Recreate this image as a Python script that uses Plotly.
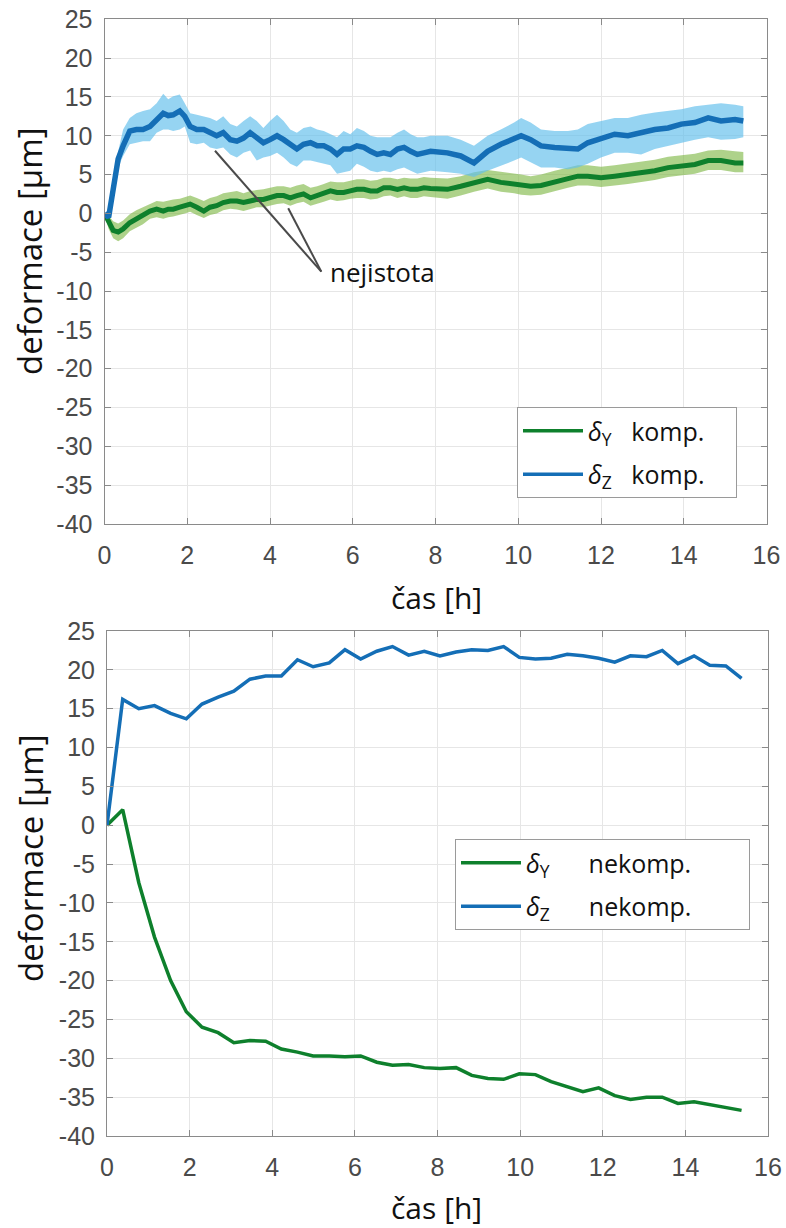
import plotly.graph_objects as go

# ---------------- data: top chart (compensated, with uncertainty band) ----------------
t_top = [0.00, 0.10, 0.21, 0.33, 0.45, 0.61, 0.77, 0.93, 1.10, 1.26, 1.42, 1.54, 1.66, 1.82, 1.94,
         2.07, 2.23, 2.40, 2.55, 2.71, 2.87, 3.04, 3.20, 3.36, 3.52, 3.68, 3.84, 4.00, 4.17, 4.33,
         4.49, 4.65, 4.81, 4.98, 5.14, 5.30, 5.46, 5.62, 5.78, 5.94, 6.10, 6.27, 6.43, 6.59, 6.75,
         6.91, 7.08, 7.24, 7.40, 7.56, 7.72, 7.88, 8.29, 8.61, 8.93, 9.26, 9.58, 9.90, 10.07, 10.30,
         10.55, 10.88, 11.20, 11.44, 11.68, 12.00, 12.33, 12.65, 12.97, 13.30, 13.62, 13.94, 14.27,
         14.59, 14.90, 15.24, 15.44]

dz_komp = [0.0, -0.5, 3.1, 7.0, 8.7, 10.6, 10.8, 10.8, 11.2, 12.1, 12.9, 12.6, 12.7, 13.2, 12.5,
           11.2, 10.8, 10.8, 10.4, 10.0, 10.4, 9.5, 9.3, 9.7, 10.4, 9.7, 9.1, 9.5, 10.0, 9.5,
           8.9, 8.3, 8.9, 9.1, 8.7, 8.7, 8.3, 7.6, 8.3, 8.3, 8.7, 8.5, 8.0, 7.6, 7.8,
           7.6, 8.3, 8.5, 8.0, 7.6, 7.8, 8.0, 7.8, 7.4, 6.5, 8.0, 8.9, 9.7, 10.0, 9.5,
           8.7, 8.5, 8.3, 8.3, 9.1, 9.7, 10.2, 10.0, 10.4, 10.8, 11.0, 11.5, 11.7,
           12.3, 11.9, 12.1, 11.9]
dz_upper = [0.0, 0.2, 4.2, 8.0, 10.8, 12.3, 12.9, 13.2, 13.4, 14.2, 15.4, 14.7, 15.1, 15.3, 14.2,
            12.9, 12.7, 12.5, 12.3, 11.9, 12.5, 11.5, 11.2, 11.9, 12.5, 11.9, 11.0, 11.9, 12.7, 11.9,
            10.8, 10.4, 11.0, 11.2, 10.8, 10.6, 10.2, 9.8, 10.6, 10.2, 11.0, 10.6, 10.0, 9.8, 9.8,
            9.8, 10.4, 10.8, 10.2, 9.8, 9.8, 10.0, 10.0, 9.5, 8.7, 10.0, 10.8, 11.7, 12.3, 11.7,
            10.8, 10.6, 10.6, 10.8, 11.5, 11.9, 12.3, 12.3, 12.7, 13.0, 13.2, 13.4, 13.8,
            14.0, 14.2, 14.0, 13.8]
dz_lower = [0.0, -1.0, 2.0, 5.9, 7.4, 8.9, 9.1, 9.3, 9.3, 10.4, 10.8, 10.8, 10.6, 10.8, 11.2,
            9.1, 8.9, 9.1, 8.5, 8.3, 8.5, 7.6, 7.2, 7.8, 8.1, 6.8, 7.2, 7.4, 7.8, 7.2,
            6.4, 6.0, 6.8, 6.8, 6.6, 6.4, 6.2, 5.1, 5.3, 5.5, 6.4, 6.0, 5.5, 5.3, 5.5,
            5.3, 5.7, 5.9, 5.5, 5.1, 5.3, 5.5, 5.3, 5.1, 4.7, 5.5, 6.2, 6.8, 7.2, 6.6,
            5.9, 5.9, 5.7, 5.9, 6.4, 7.2, 7.8, 7.8, 7.6, 8.3, 8.7, 9.1, 9.5,
            9.8, 9.5, 9.6, 9.8]

dy_komp = [0.0, -1.2, -2.2, -2.4, -2.0, -1.2, -0.7, -0.3, 0.3, 0.55, 0.3, 0.55, 0.55, 0.8, 1.0,
           1.2, 0.8, 0.3, 0.8, 1.0, 1.4, 1.6, 1.6, 1.4, 1.6, 1.8, 1.8, 2.0, 2.3, 2.3,
           2.0, 2.3, 2.5, 2.0, 2.3, 2.5, 2.9, 2.7, 2.7, 2.9, 3.1, 3.1, 2.9, 2.9, 3.3,
           3.3, 3.1, 3.3, 3.1, 3.1, 3.3, 3.2, 3.1, 3.5, 4.0, 4.4, 4.0, 3.8, 3.6, 3.5,
           3.6, 4.1, 4.5, 4.8, 4.8, 4.6, 4.8, 5.0, 5.2, 5.5, 5.9, 6.1, 6.3,
           6.8, 6.8, 6.5, 6.5]
dy_upper = [0.0, -0.3, -1.0, -1.3, -0.9, -0.1, 0.4, 0.8, 1.3, 1.6, 1.5, 1.7, 1.8, 1.9, 2.1,
            2.3, 2.0, 1.6, 2.0, 2.2, 2.6, 2.8, 2.9, 2.6, 2.9, 3.0, 3.1, 3.3, 3.5, 3.5,
            3.3, 3.6, 3.8, 3.3, 3.5, 3.8, 4.1, 4.0, 4.0, 4.2, 4.4, 4.4, 4.2, 4.3, 4.6,
            4.6, 4.4, 4.6, 4.5, 4.5, 4.7, 4.6, 4.5, 4.8, 5.3, 5.6, 5.4, 5.2, 5.0, 4.8,
            5.0, 5.5, 5.9, 6.2, 6.2, 6.0, 6.2, 6.4, 6.6, 6.9, 7.3, 7.5, 7.7,
            8.1, 8.2, 8.0, 7.9]
dy_lower = [0.0, -2.0, -3.2, -3.6, -3.2, -2.3, -1.8, -1.4, -0.7, -0.5, -0.7, -0.5, -0.4, -0.2, 0.0,
            0.2, -0.2, -0.6, -0.2, 0.0, 0.4, 0.6, 0.5, 0.3, 0.6, 0.8, 0.8, 1.0, 1.2, 1.3,
            1.0, 1.3, 1.5, 1.0, 1.2, 1.5, 1.8, 1.6, 1.7, 1.9, 2.0, 2.0, 1.8, 1.9, 2.2,
            2.3, 2.0, 2.2, 2.0, 2.0, 2.2, 2.1, 1.9, 2.3, 2.8, 3.2, 2.8, 2.6, 2.4, 2.3,
            2.4, 2.9, 3.3, 3.6, 3.6, 3.4, 3.6, 3.8, 4.0, 4.3, 4.7, 4.9, 5.1,
            5.6, 5.6, 5.3, 5.3]

# ---------------- data: bottom chart (uncompensated) ----------------
t_bot = [0.00, 0.38, 0.77, 1.15, 1.54, 1.92, 2.30, 2.69, 3.07, 3.46, 3.84, 4.22, 4.61, 4.99,
         5.38, 5.76, 6.14, 6.53, 6.91, 7.30, 7.68, 8.06, 8.45, 8.83, 9.22, 9.60, 9.98, 10.37,
         10.75, 11.14, 11.52, 11.90, 12.29, 12.67, 13.06, 13.44, 13.82, 14.21, 14.59, 14.98, 15.36]
dy_nekomp = [0.0, 2.0, -7.4, -14.4, -20.0, -24.0, -26.0, -26.7, -28.0, -27.7, -27.8, -28.8, -29.2,
             -29.7, -29.7, -29.8, -29.7, -30.5, -30.9, -30.8, -31.2, -31.3, -31.2, -32.2, -32.6,
             -32.7, -32.0, -32.1, -33.0, -33.6, -34.3, -33.8, -34.8, -35.3, -35.0, -35.0, -35.8,
             -35.6, -36.0, -36.3, -36.7]
dz_nekomp = [0.0, 16.2, 15.0, 15.4, 14.4, 13.7, 15.6, 16.5, 17.25, 18.8, 19.2, 19.2, 21.3, 20.4,
             20.9, 22.6, 21.4, 22.4, 23.0, 21.9, 22.4, 21.8, 22.3, 22.6, 22.5, 23.0, 21.6, 21.4,
             21.5, 22.0, 21.8, 21.5, 21.0, 21.8, 21.7, 22.5, 20.8, 21.8, 20.6, 20.5, 18.9]

# ---------------- ticks / labels ----------------
x_tickvals = [0, 2, 4, 6, 8, 10, 12, 14, 16]
x_ticktext = ["0", "2", "4", "6", "8", "10", "12", "14", "16"]
y_tickvals = [25, 20, 15, 10, 5, 0, -5, -10, -15, -20, -25, -30, -35, -40]
y_ticktext = ["25", "20", "15", "10", "5", "0", "-5", "-10", "-15", "-20", "-25", "-30", "-35", "-40"]
NB = "\u00a0"
legend_top = ["<i>δ</i><sub>Y</sub>" + NB * 3 + "komp." + NB * 4,
              "<i>δ</i><sub>Z</sub>" + NB * 3 + "komp." + NB * 4]
legend_bot = ["<i>δ</i><sub>Y</sub>" + NB * 6 + "nekomp." + NB * 8,
              "<i>δ</i><sub>Z</sub>" + NB * 6 + "nekomp." + NB * 8]

# ---------------- styles ----------------
W, H = 786, 1228
GREEN = "rgb(14,128,44)"
BLUE = "rgb(20,110,182)"
GREEN_BAND = "rgba(125,182,66,0.62)"
BLUE_BAND = "rgba(100,192,236,0.68)"
AXC = "#8a8a8a"
GRID = "#e6e6e6"
TICKFONT = dict(family="Liberation Sans, Arial, sans-serif", size=25, color="#4a4a4a")
XLABFONT = dict(family="Open Sans, sans-serif", size=30, color="#111111")
YLABFONT = dict(family="Open Sans, sans-serif", size=33, color="#111111")
LEGFONT = dict(family="Open Sans, sans-serif", size=25, color="#111111")


def px(v):
    return v / W


def py(v):
    return (H - v) / H


fig = go.Figure()

# top chart bands
fig.add_trace(go.Scatter(x=t_top + t_top[::-1], y=dy_upper + dy_lower[::-1], fill="toself",
                         fillcolor=GREEN_BAND, line=dict(width=0), mode="lines",
                         showlegend=False, hoverinfo="skip", xaxis="x", yaxis="y"))
fig.add_trace(go.Scatter(x=t_top + t_top[::-1], y=dz_upper + dz_lower[::-1], fill="toself",
                         fillcolor=BLUE_BAND, line=dict(width=0), mode="lines",
                         showlegend=False, hoverinfo="skip", xaxis="x", yaxis="y"))
fig.add_trace(go.Scatter(x=t_top, y=dy_komp, mode="lines", line=dict(color=GREEN, width=5),
                         showlegend=False, xaxis="x", yaxis="y"))
fig.add_trace(go.Scatter(x=t_top, y=dz_komp, mode="lines", line=dict(color=BLUE, width=5.5),
                         showlegend=False, xaxis="x", yaxis="y"))
# legend entries for the top chart (thinner legend line as in the original)
fig.add_trace(go.Scatter(x=[None], y=[None], mode="lines", line=dict(color=GREEN, width=3.5),
                         name=legend_top[0], legend="legend", legendgroup="a",
                         xaxis="x", yaxis="y"))
fig.add_trace(go.Scatter(x=[None], y=[None], mode="lines", line=dict(color=BLUE, width=3.5),
                         name=legend_top[1], legend="legend", legendgroup="b",
                         xaxis="x", yaxis="y"))

# bottom chart
fig.add_trace(go.Scatter(x=t_bot, y=dy_nekomp, mode="lines", line=dict(color=GREEN, width=3.5),
                         name=legend_bot[0], legend="legend2", legendgroup="c",
                         xaxis="x2", yaxis="y2"))
fig.add_trace(go.Scatter(x=t_bot, y=dz_nekomp, mode="lines", line=dict(color=BLUE, width=3.5),
                         name=legend_bot[1], legend="legend2", legendgroup="d",
                         xaxis="x2", yaxis="y2"))

axis_common = dict(showline=True, linecolor=AXC, linewidth=1, mirror="ticks", ticks="inside",
                   ticklen=6, tickcolor=AXC, showgrid=True, gridcolor=GRID, gridwidth=1,
                   zeroline=False, tickfont=TICKFONT, automargin=False)

fig.update_layout(
    template="none",
    width=W, height=H, margin=dict(l=0, r=0, t=0, b=0, pad=0, autoexpand=False),
    paper_bgcolor="white", plot_bgcolor="white",
    xaxis=dict(domain=[px(104.5), px(766.5)], range=[0, 16], tickvals=x_tickvals,
               ticktext=x_ticktext, anchor="y", ticklabelstandoff=9, **axis_common),
    yaxis=dict(domain=[py(524), py(19.3)], range=[-40, 25], tickvals=y_tickvals,
               ticktext=y_ticktext, anchor="x", ticklabelstandoff=6, **axis_common),
    xaxis2=dict(domain=[px(107), px(768)], range=[0, 16], tickvals=x_tickvals,
                ticktext=x_ticktext, anchor="y2", ticklabelstandoff=9, **axis_common),
    yaxis2=dict(domain=[py(1136), py(631)], range=[-40, 25], tickvals=y_tickvals,
                ticktext=y_ticktext, anchor="x2", ticklabelstandoff=6, **axis_common),
    legend=dict(x=px(517), y=py(407), xanchor="left", yanchor="top", bgcolor="white",
                bordercolor="#9a9a9a", borderwidth=1, itemwidth=60, tracegroupgap=8,
                font=LEGFONT),
    legend2=dict(x=px(455), y=py(839), xanchor="left", yanchor="top", bgcolor="white",
                 bordercolor="#9a9a9a", borderwidth=1, itemwidth=60, tracegroupgap=8,
                 font=LEGFONT),
    showlegend=True,
)

# axis titles
for (xc, yc, txt, ang, fnt) in [(30, 251, "deformace [µm]", -90, YLABFONT),
                                (437, 597, "čas [h]", 0, XLABFONT),
                                (30, 858, "deformace [µm]", -90, YLABFONT),
                                (437, 1207, "čas [h]", 0, XLABFONT)]:
    fig.add_annotation(x=px(xc), y=py(yc), xref="paper", yref="paper", text=txt, showarrow=False,
                       textangle=ang, font=fnt, xanchor="center", yanchor="middle")

# uncertainty pointer ("nejistota")
for (x0, y0) in [(2.67, 8.07), (4.44, 0.66)]:
    fig.add_shape(type="line", xref="x", yref="y", x0=x0, y0=y0, x1=5.24, y1=-7.5,
                  line=dict(color="#4a4a4a", width=2))
fig.add_annotation(x=5.41, y=-7.5, xref="x", yref="y", text="nejistota", showarrow=False,
                   xanchor="left", yanchor="middle",
                   font=dict(family="Open Sans, sans-serif", size=26, color="#111111"))

fig.write_html("out.html", config={"displayModeBar": False},
               post_script="document.body.style.margin='0';document.body.style.padding='0';")
